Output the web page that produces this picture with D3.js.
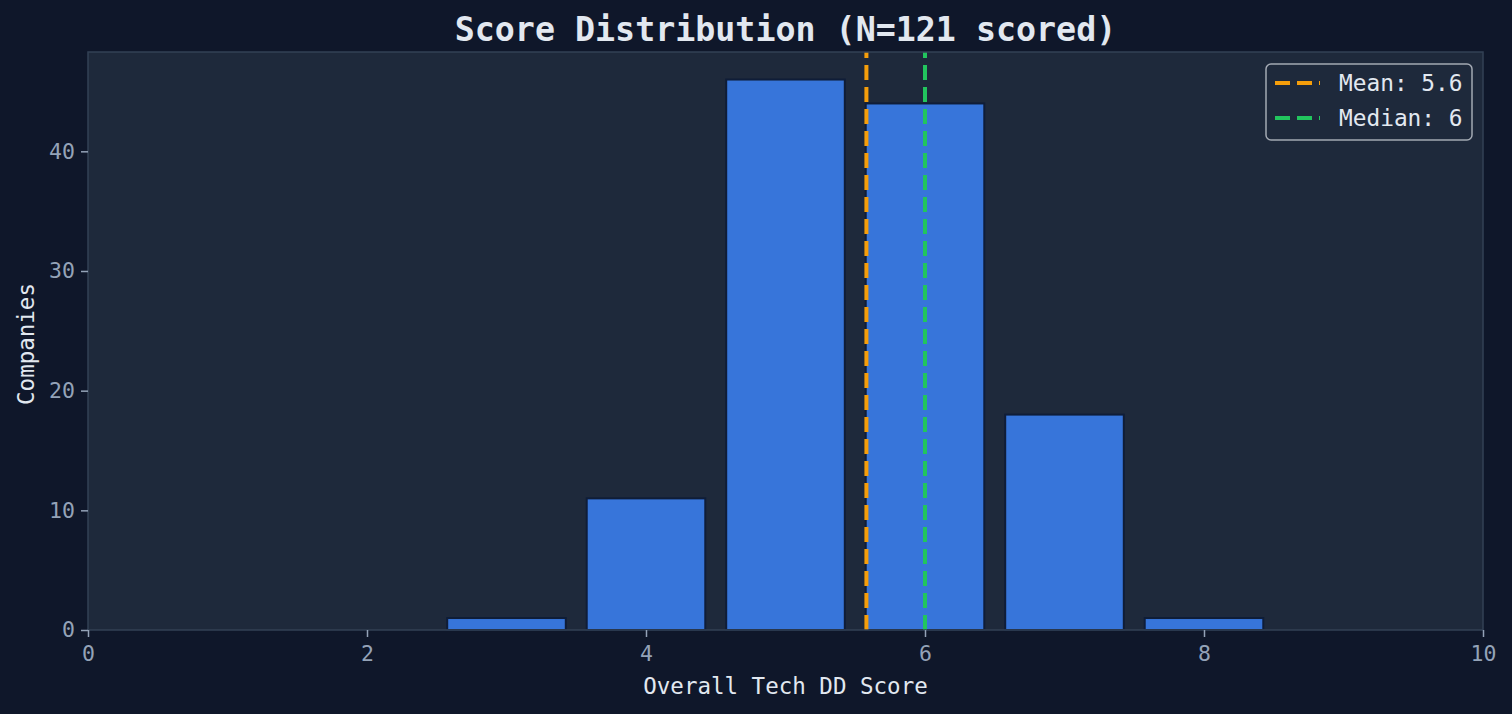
<!DOCTYPE html>
<html><head><meta charset="utf-8">
<script src="https://cdn.jsdelivr.net/npm/d3@7"></script>
<style>html,body{margin:0;padding:0;background:#0f172a;}svg{display:block;}</style>
</head><body>
<svg id="c" width="1512" height="714"></svg>
<script>
const scores = [3, 4, 5, 6, 7, 8];
const counts = [1, 11, 46, 44, 18, 1];
const meanValue = 5.58;
const medianValue = 6;
const xTicks = [0, 2, 4, 6, 8, 10];
const yTicks = [0, 10, 20, 30, 40];
const titleText = "Score Distribution (N=121 scored)";
const xLabel = "Overall Tech DD Score";
const yLabel = "Companies";
const legendLabels = ["Mean: 5.6", "Median: 6"];

const W = 1512, H = 714;
const m = {l: 88, r: 1483, t: 52, b: 630};
const font = "'DejaVu Sans Mono', monospace";
const svg = d3.select("#c");
svg.append("rect").attr("width", W).attr("height", H).attr("fill", "#0f172a");

const x = d3.scaleLinear().domain([0, 10]).range([m.l, m.r]);
const y = d3.scaleLinear().domain([0, 48.3]).range([m.b, m.t]);

svg.append("rect").attr("x", m.l).attr("y", m.t).attr("width", m.r - m.l).attr("height", m.b - m.t).attr("fill", "#1e293b");

const bw = 0.85;
svg.append("g").selectAll("rect").data(scores).join("rect")
  .attr("x", (d) => x(d - bw / 2))
  .attr("width", (d) => x(d + bw / 2) - x(d - bw / 2))
  .attr("y", (d, i) => y(counts[i]))
  .attr("height", (d, i) => y(0) - y(counts[i]))
  .attr("fill", "#3775da")
  .attr("stroke", "#0f1d38")
  .attr("stroke-width", 2);

function vline(v, color) {
  svg.append("line").attr("x1", x(v)).attr("x2", x(v)).attr("y1", m.b).attr("y2", m.t)
    .attr("stroke", color).attr("stroke-width", 4).attr("stroke-dasharray", "15,7");
}
vline(meanValue, "#f59e0b");
vline(medianValue, "#22c55e");

// spines
const sp = svg.append("g").attr("fill", "none").attr("stroke", "#334155").attr("stroke-width", 1.5);
sp.append("rect").attr("x", m.l).attr("y", m.t).attr("width", m.r - m.l).attr("height", m.b - m.t);

const xAxis = svg.append("g").attr("transform", `translate(0,${m.b})`)
  .call(d3.axisBottom(x).tickValues(xTicks).tickSize(7).tickPadding(9).tickFormat(d3.format("d")));
const yAxis = svg.append("g").attr("transform", `translate(${m.l},0)`)
  .call(d3.axisLeft(y).tickValues(yTicks).tickSize(7).tickPadding(6).tickFormat(d3.format("d")));
[xAxis, yAxis].forEach(a => {
  a.select(".domain").remove();
  a.selectAll(".tick line").attr("stroke", "#94a3b8").attr("stroke-width", 1.5);
  a.selectAll(".tick text").attr("fill", "#94a3b8").attr("font-family", font).attr("font-size", 21.5);
});

svg.append("text").attr("x", (m.l + m.r) / 2).attr("y", 41).attr("text-anchor", "middle")
  .attr("font-family", font).attr("font-weight", "bold").attr("font-size", 33.3).attr("fill", "#e2e8f0").text(titleText);
svg.append("text").attr("x", (m.l + m.r) / 2).attr("y", 694).attr("text-anchor", "middle")
  .attr("font-family", font).attr("font-size", 22.5).attr("fill", "#e2e8f0").text(xLabel);
svg.append("text").attr("transform", `translate(34,${(m.t + m.b) / 2 + 3}) rotate(-90)`).attr("text-anchor", "middle")
  .attr("font-family", font).attr("font-size", 22.5).attr("fill", "#e2e8f0").text(yLabel);

// legend
const lg = svg.append("g");
lg.append("rect").attr("x", 1266).attr("y", 64).attr("width", 206).attr("height", 76).attr("rx", 5)
  .attr("fill", "#1e293b").attr("stroke", "#a3a9b3").attr("stroke-width", 1.5);
const lcolors = ["#f59e0b", "#22c55e"];
legendLabels.forEach((t, i) => {
  const yy = 83 + i * 35;
  lg.append("line").attr("x1", 1275).attr("x2", 1320).attr("y1", yy).attr("y2", yy)
    .attr("stroke", lcolors[i]).attr("stroke-width", 4).attr("stroke-dasharray", "15,7");
  lg.append("text").attr("x", 1339).attr("y", yy + 8).attr("font-family", font).attr("font-size", 22.8)
    .attr("fill", "#e2e8f0").text(t);
});
</script>
</body></html>
